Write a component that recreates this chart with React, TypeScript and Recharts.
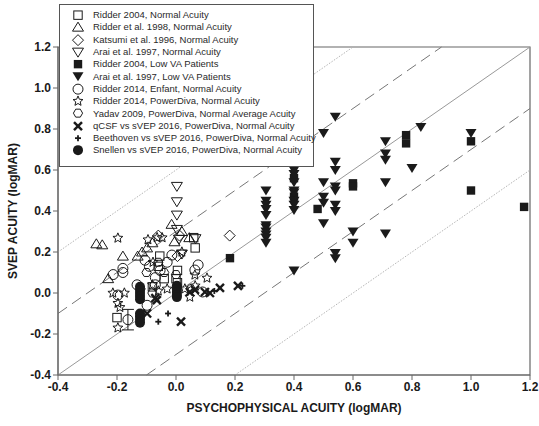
import React from 'react'
import {
  ScatterChart,
  Scatter,
  XAxis,
  YAxis,
  ReferenceLine,
  ReferenceArea,
  ErrorBar,
} from 'recharts'

// axis ticks (logMAR)
const xTicks = [-0.4, -0.2, 0, 0.2, 0.4, 0.6, 0.8, 1.0, 1.2]
const yTicks = [-0.4, -0.2, 0, 0.2, 0.4, 0.6, 0.8, 1.0, 1.2]

// agreement lines: y = x + offset
const solidOffsets = [0]
const dashedOffsets = [-0.3, 0.3]
const dottedOffsets = [-0.6, 0.6]

// [psychophysical, sVEP]
const ridder2004Normal = [
  [-0.2, -0.12], [-0.055, 0.18], [0.005, 0.11], [-0.04, 0.07], [0.0, 0.07],
  [0.005, 0.05], [0.065, 0.22], [-0.06, 0.13], [-0.08, 0.03], [0.06, 0.27],
]
const ridder1998 = [
  [-0.27, 0.24], [-0.25, 0.235], [-0.18, 0.18], [-0.23, 0.07], [-0.13, 0.18],
  [-0.115, 0.2], [-0.098, 0.22], [-0.08, 0.245], [-0.015, 0.335], [0.02, 0.3],
  [0.045, 0.27], [-0.005, 0.25],
]
const katsumi1996 = [[-0.06, 0.28], [0.012, 0.28], [0.005, 0.18], [0.182, 0.28]]
const arai1997Normal = [
  [0.003, 0.52], [0.003, 0.445], [0.003, 0.38], [0.003, 0.31], [0.01, 0.262],
  [0.066, 0.265], [0.02, 0.19],
]
const ridder2004Low = [
  [0.183, 0.17], [0.48, 0.41], [0.6, 0.535], [0.6, 0.52], [0.78, 0.77],
  [0.78, 0.73], [1.0, 0.74], [1.0, 0.5], [1.18, 0.42], [0.4, 0.56], [0.4, 0.47],
]
const arai1997Low = [
  [0.305, 0.5], [0.305, 0.45], [0.305, 0.43], [0.305, 0.41], [0.305, 0.38],
  [0.305, 0.33], [0.305, 0.32], [0.305, 0.3], [0.305, 0.285], [0.305, 0.27],
  [0.305, 0.245],
  [0.4, 0.64], [0.4, 0.6], [0.4, 0.58], [0.4, 0.54], [0.4, 0.5], [0.4, 0.49],
  [0.4, 0.45], [0.4, 0.43], [0.4, 0.405], [0.4, 0.11],
  [0.5, 0.78], [0.5, 0.54], [0.5, 0.47], [0.5, 0.44], [0.5, 0.34],
  [0.54, 0.86], [0.54, 0.64], [0.54, 0.6], [0.54, 0.52], [0.54, 0.5],
  [0.54, 0.43], [0.54, 0.4], [0.54, 0.195], [0.54, 0.17],
  [0.6, 0.3], [0.6, 0.245],
  [0.71, 0.74], [0.71, 0.68], [0.71, 0.65], [0.71, 0.54], [0.71, 0.29],
  [0.8, 0.61], [0.83, 0.81], [1.0, 0.78],
]
const ridder2014Enfant = [
  [-0.213, 0.09], [-0.18, 0.12], [-0.18, 0.1], [-0.197, -0.01], [-0.132, 0.04],
  [-0.105, 0.16], [-0.09, 0.13], [-0.054, 0.11], [-0.07, 0.075], [-0.07, 0.04],
  [-0.098, -0.06], [-0.014, 0.185], [0.075, 0.137], [0.064, 0.112], [0.09, 0.005],
  [-0.03, 0.15],
]
const enfantWithError = [[-0.163, -0.13]]
const enfantError = [0.05]
const yadav2009 = [
  [-0.06, 0.15], [-0.04, 0.1], [-0.12, 0.02], [0.0, 0.09], [-0.08, 0.0],
  [0.05, 0.02], [-0.1, 0.1],
]
const ridder2014PowerDiva = [
  [-0.197, 0.268], [-0.214, 0.0], [-0.175, 0.0], [-0.197, -0.05], [-0.19, -0.07],
  [-0.197, -0.17], [-0.095, 0.26], [-0.064, 0.27], [-0.047, 0.27], [-0.078, 0.15],
  [0.105, 0.073], [0.047, -0.02], [0.064, 0.088], [-0.06, 0.01], [-0.03, 0.02],
  [0.03, 0.02], [0.02, 0.2], [0.065, 0.035], [-0.08, 0.04],
]
const qcsf2016 = [
  [0.017, -0.14], [-0.098, -0.1], [-0.07, -0.025], [0.064, 0.015], [0.098, 0.005],
  [0.115, 0.0], [0.149, 0.025], [0.21, 0.035], [-0.065, -0.035], [0.047, 0.005],
]
const beethoven2016 = [[-0.06, -0.14], [-0.027, -0.1], [0.225, 0.035], [0.13, 0.01]]
const snellen2016 = [
  [-0.122, 0.03], [-0.122, 0.015], [-0.122, 0.0], [-0.122, -0.015], [-0.122, -0.03],
  [-0.122, -0.1], [-0.122, -0.115], [-0.122, -0.13], [-0.122, -0.145],
  [0.003, 0.035], [0.003, 0.02], [0.003, 0.005], [0.003, -0.01], [0.003, -0.02],
]

const legendLabels = [
  'Ridder 2004, Normal Acuity',
  'Ridder et al. 1998, Normal Acuity',
  'Katsumi et al. 1996, Normal Acuity',
  'Arai et al. 1997, Normal Acuity',
  'Ridder 2004, Low VA Patients',
  'Arai et al. 1997, Low VA Patients',
  'Ridder 2014, Enfant, Normal Acuity',
  'Ridder 2014, PowerDiva, Normal Acuity',
  'Yadav 2009, PowerDiva, Normal Average Acuity',
  'qCSF vs sVEP 2016, PowerDiva, Normal Acuity',
  'Beethoven vs sVEP 2016, PowerDiva, Normal Acuity',
  'Snellen vs sVEP 2016, PowerDiva, Normal Acuity',
]

type Kind =
  | 'square' | 'triUp' | 'diamond' | 'triDown' | 'squareFill' | 'triDownFill'
  | 'circle' | 'star' | 'hexagon' | 'cross' | 'plus' | 'circleFill'

const series: { kind: Kind; points: number[][] }[] = [
  { kind: 'square', points: ridder2004Normal },
  { kind: 'triUp', points: ridder1998 },
  { kind: 'diamond', points: katsumi1996 },
  { kind: 'triDown', points: arai1997Normal },
  { kind: 'squareFill', points: ridder2004Low },
  { kind: 'triDownFill', points: arai1997Low },
  { kind: 'circle', points: ridder2014Enfant },
  { kind: 'star', points: ridder2014PowerDiva },
  { kind: 'hexagon', points: yadav2009 },
  { kind: 'cross', points: qcsf2016 },
  { kind: 'plus', points: beethoven2016 },
  { kind: 'circleFill', points: snellen2016 },
]

const INK = '#1a1a1a'

function starPath(cx: number, cy: number, r: number) {
  const pts: string[] = []
  for (let i = 0; i < 10; i++) {
    const rr = i % 2 === 0 ? r : r * 0.45
    const a = -Math.PI / 2 + (i * Math.PI) / 5
    pts.push(`${cx + rr * Math.cos(a)},${cy + rr * Math.sin(a)}`)
  }
  return pts.join(' ')
}

function hexPath(cx: number, cy: number, r: number) {
  const pts: string[] = []
  for (let i = 0; i < 6; i++) {
    const a = (i * Math.PI) / 3
    pts.push(`${cx + r * Math.cos(a)},${cy + r * Math.sin(a)}`)
  }
  return pts.join(' ')
}

function Marker({ kind, cx, cy }: { kind: Kind; cx: number; cy: number }) {
  const s = { stroke: INK, strokeWidth: 1, fill: 'none' }
  switch (kind) {
    case 'square':
      return <rect x={cx - 4.2} y={cy - 4.2} width={8.4} height={8.4} {...s} />
    case 'squareFill':
      return <rect x={cx - 4.2} y={cy - 4.2} width={8.4} height={8.4} fill={INK} />
    case 'triUp':
      return <polygon points={`${cx},${cy - 5} ${cx + 5.5},${cy + 4} ${cx - 5.5},${cy + 4}`} {...s} />
    case 'triDown':
      return <polygon points={`${cx},${cy + 5} ${cx + 5.5},${cy - 4} ${cx - 5.5},${cy - 4}`} {...s} />
    case 'triDownFill':
      return <polygon points={`${cx},${cy + 5} ${cx + 5.5},${cy - 4} ${cx - 5.5},${cy - 4}`} fill={INK} />
    case 'diamond':
      return <polygon points={`${cx},${cy - 5.5} ${cx + 5.5},${cy} ${cx},${cy + 5.5} ${cx - 5.5},${cy}`} {...s} />
    case 'circle':
      return <circle cx={cx} cy={cy} r={5} {...s} />
    case 'circleFill':
      return <circle cx={cx} cy={cy} r={5} fill={INK} />
    case 'star':
      return <polygon points={starPath(cx, cy, 5.2)} {...s} />
    case 'hexagon':
      return <polygon points={hexPath(cx, cy, 4.6)} {...s} />
    case 'cross':
      return (
        <g stroke={INK} strokeWidth={2.4}>
          <line x1={cx - 4} y1={cy - 4} x2={cx + 4} y2={cy + 4} />
          <line x1={cx - 4} y1={cy + 4} x2={cx + 4} y2={cy - 4} />
        </g>
      )
    case 'plus':
      return (
        <g stroke={INK} strokeWidth={1.8}>
          <line x1={cx - 3} y1={cy} x2={cx + 3} y2={cy} />
          <line x1={cx} y1={cy - 3} x2={cx} y2={cy + 3} />
        </g>
      )
  }
  return null
}

function segment(offset: number) {
  const x1 = Math.max(-0.4, -0.4 - offset)
  const x2 = Math.min(1.2, 1.2 - offset)
  return [{ x: x1, y: x1 + offset }, { x: x2, y: x2 + offset }]
}

const toRows = (pts: number[][]) => pts.map(([x, y]) => ({ x, y }))

export default function App() {
  const font = '"Liberation Sans", Arial, sans-serif'
  return (
    <div style={{ position: 'absolute', left: 0, top: 0, width: 539, height: 426, background: '#fff', fontFamily: font }}>
      <ScatterChart width={539} height={426} margin={{ top: 47, right: 9, bottom: 0, left: 0 }}>
        <XAxis
          type="number"
          dataKey="x"
          domain={[-0.4, 1.2]}
          ticks={xTicks}
          allowDataOverflow
          height={51}
          tickSize={5}
          stroke="#666"
          tick={{ fontSize: 12, fontWeight: 700, fill: '#1a1a1a', fontFamily: font }}
          tickFormatter={(v: number) => v.toFixed(1)}
          label={{
            content: ({ viewBox }: any) => (
              <text
                x={viewBox.x + viewBox.width / 2}
                y={viewBox.y + 37}
                textAnchor="middle"
                fontSize={12}
                fontWeight={700}
                fill="#1a1a1a"
                fontFamily={font}
              >
                PSYCHOPHYSICAL ACUITY (logMAR)
              </text>
            ),
          }}
        />
        <YAxis
          type="number"
          dataKey="y"
          domain={[-0.4, 1.2]}
          ticks={yTicks}
          allowDataOverflow
          width={58}
          tickSize={5}
          stroke="#666"
          tick={{ fontSize: 12, fontWeight: 700, fill: '#1a1a1a', fontFamily: font }}
          tickFormatter={(v: number) => v.toFixed(1)}
          label={{
            content: ({ viewBox }: any) => {
              const cx = viewBox.x + 13
              const cy = viewBox.y + viewBox.height / 2
              return (
                <text
                  x={cx}
                  y={cy}
                  transform={`rotate(-90 ${cx} ${cy})`}
                  textAnchor="middle"
                  dominantBaseline="central"
                  fontSize={12}
                  fontWeight={700}
                  fill="#1a1a1a"
                  fontFamily={font}
                >
                  SVEP ACUITY (logMAR)
                </text>
              )
            },
          }}
        />
        <ReferenceArea x1={-0.4} x2={1.2} y1={-0.4} y2={1.2} fill="none" stroke="#666" strokeWidth={1.2} />
        {dottedOffsets.map((o) => (
          <ReferenceLine key={`dot${o}`} segment={segment(o)} stroke="#b5b5b5" strokeDasharray="1.5 1.5" />
        ))}
        {dashedOffsets.map((o) => (
          <ReferenceLine key={`dash${o}`} segment={segment(o)} stroke="#777" strokeDasharray="11 6" />
        ))}
        {solidOffsets.map((o) => (
          <ReferenceLine key={`solid${o}`} segment={segment(o)} stroke="#999" />
        ))}
        {series.map((s, i) => (
          <Scatter
            key={i}
            data={toRows(s.points)}
            isAnimationActive={false}
            shape={(p: any) => <Marker kind={s.kind} cx={p.cx} cy={p.cy} />}
          />
        ))}
        <Scatter
          data={toRows(enfantWithError).map((r, i) => ({ ...r, err: enfantError[i] }))}
          isAnimationActive={false}
          shape={(p: any) => <Marker kind="circle" cx={p.cx} cy={p.cy} />}
        >
          <ErrorBar dataKey="err" direction="y" width={6} stroke={INK} strokeWidth={1} />
        </Scatter>
      </ScatterChart>
      <div
        style={{
          position: 'absolute',
          left: 59,
          top: 4,
          width: 255,
          height: 163,
          boxSizing: 'border-box',
          border: '1px solid #555',
          background: '#fff',
          paddingTop: 4,
        }}
      >
        {series.map((s, i) => (
          <div key={i} style={{ display: 'flex', alignItems: 'center', height: 12.3 }}>
            <svg width={30} height={12.3} style={{ flex: 'none', marginLeft: 3 }}>
              <Marker kind={s.kind} cx={15} cy={6.15} />
            </svg>
            <span style={{ fontSize: 9.5, color: '#2a2a2a', whiteSpace: 'nowrap', lineHeight: '12px' }}>
              {legendLabels[i]}
            </span>
          </div>
        ))}
      </div>
    </div>
  )
}
